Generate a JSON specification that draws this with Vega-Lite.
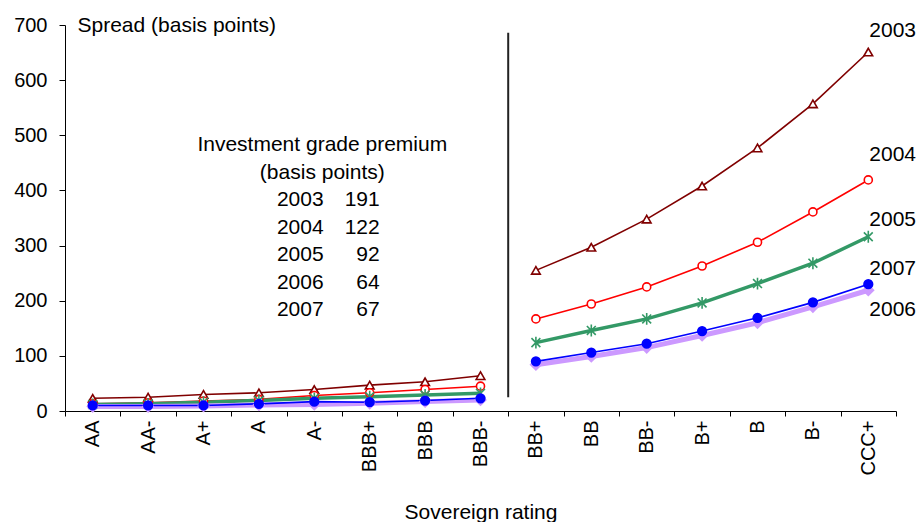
{
  "$schema": "https://vega.github.io/schema/vega-lite/v6.json",
  "width": 831,
  "height": 386,
  "autosize": "none",
  "padding": {"left": 65, "top": 25, "right": 23, "bottom": 111},
  "background": "white",
  "config": {
    "view": {"stroke": null},
    "font": "Liberation Sans",
    "axis": {
      "domainColor": "black", "tickColor": "black", "labelColor": "black", "titleColor": "black",
      "grid": false, "labelFontSize": 20, "titleFontSize": 21, "titleFontWeight": "normal",
      "labelFont": "Liberation Sans", "titleFont": "Liberation Sans"
    },
    "text": {"font": "Liberation Sans", "fontSize": 21, "color": "black"}
  },
  "datasets": {
    "spreads": [
      {"rating": "AA", "grade": "IG", "year": "2003", "spread": 23}, {"rating": "AA-", "grade": "IG", "year": "2003", "spread": 25}, {"rating": "A+", "grade": "IG", "year": "2003", "spread": 30}, {"rating": "A", "grade": "IG", "year": "2003", "spread": 33}, {"rating": "A-", "grade": "IG", "year": "2003", "spread": 39}, {"rating": "BBB+", "grade": "IG", "year": "2003", "spread": 47}, {"rating": "BBB", "grade": "IG", "year": "2003", "spread": 53}, {"rating": "BBB-", "grade": "IG", "year": "2003", "spread": 64},
      {"rating": "BB+", "grade": "SG", "year": "2003", "spread": 255}, {"rating": "BB", "grade": "SG", "year": "2003", "spread": 297}, {"rating": "BB-", "grade": "SG", "year": "2003", "spread": 348}, {"rating": "B+", "grade": "SG", "year": "2003", "spread": 408}, {"rating": "B", "grade": "SG", "year": "2003", "spread": 477}, {"rating": "B-", "grade": "SG", "year": "2003", "spread": 557}, {"rating": "CCC+", "grade": "SG", "year": "2003", "spread": 651},
      {"rating": "AA", "grade": "IG", "year": "2004", "spread": 13}, {"rating": "AA-", "grade": "IG", "year": "2004", "spread": 15}, {"rating": "A+", "grade": "IG", "year": "2004", "spread": 18}, {"rating": "A", "grade": "IG", "year": "2004", "spread": 21}, {"rating": "A-", "grade": "IG", "year": "2004", "spread": 28}, {"rating": "BBB+", "grade": "IG", "year": "2004", "spread": 33}, {"rating": "BBB", "grade": "IG", "year": "2004", "spread": 39}, {"rating": "BBB-", "grade": "IG", "year": "2004", "spread": 45},
      {"rating": "BB+", "grade": "SG", "year": "2004", "spread": 167}, {"rating": "BB", "grade": "SG", "year": "2004", "spread": 194}, {"rating": "BB-", "grade": "SG", "year": "2004", "spread": 225}, {"rating": "B+", "grade": "SG", "year": "2004", "spread": 263}, {"rating": "B", "grade": "SG", "year": "2004", "spread": 306}, {"rating": "B-", "grade": "SG", "year": "2004", "spread": 361}, {"rating": "CCC+", "grade": "SG", "year": "2004", "spread": 419},
      {"rating": "AA", "grade": "IG", "year": "2005", "spread": 12}, {"rating": "AA-", "grade": "IG", "year": "2005", "spread": 13}, {"rating": "A+", "grade": "IG", "year": "2005", "spread": 16}, {"rating": "A", "grade": "IG", "year": "2005", "spread": 19}, {"rating": "A-", "grade": "IG", "year": "2005", "spread": 23}, {"rating": "BBB+", "grade": "IG", "year": "2005", "spread": 26}, {"rating": "BBB", "grade": "IG", "year": "2005", "spread": 29}, {"rating": "BBB-", "grade": "IG", "year": "2005", "spread": 32},
      {"rating": "BB+", "grade": "SG", "year": "2005", "spread": 124}, {"rating": "BB", "grade": "SG", "year": "2005", "spread": 146}, {"rating": "BB-", "grade": "SG", "year": "2005", "spread": 167}, {"rating": "B+", "grade": "SG", "year": "2005", "spread": 196}, {"rating": "B", "grade": "SG", "year": "2005", "spread": 231}, {"rating": "B-", "grade": "SG", "year": "2005", "spread": 268}, {"rating": "CCC+", "grade": "SG", "year": "2005", "spread": 316},
      {"rating": "AA", "grade": "IG", "year": "2006", "spread": 8}, {"rating": "AA-", "grade": "IG", "year": "2006", "spread": 8}, {"rating": "A+", "grade": "IG", "year": "2006", "spread": 9}, {"rating": "A", "grade": "IG", "year": "2006", "spread": 11}, {"rating": "A-", "grade": "IG", "year": "2006", "spread": 12}, {"rating": "BBB+", "grade": "IG", "year": "2006", "spread": 14}, {"rating": "BBB", "grade": "IG", "year": "2006", "spread": 17}, {"rating": "BBB-", "grade": "IG", "year": "2006", "spread": 20},
      {"rating": "BB+", "grade": "SG", "year": "2006", "spread": 84}, {"rating": "BB", "grade": "SG", "year": "2006", "spread": 99}, {"rating": "BB-", "grade": "SG", "year": "2006", "spread": 115}, {"rating": "B+", "grade": "SG", "year": "2006", "spread": 137}, {"rating": "B", "grade": "SG", "year": "2006", "spread": 160}, {"rating": "B-", "grade": "SG", "year": "2006", "spread": 189}, {"rating": "CCC+", "grade": "SG", "year": "2006", "spread": 219},
      {"rating": "AA", "grade": "IG", "year": "2007", "spread": 10}, {"rating": "AA-", "grade": "IG", "year": "2007", "spread": 10}, {"rating": "A+", "grade": "IG", "year": "2007", "spread": 10}, {"rating": "A", "grade": "IG", "year": "2007", "spread": 13}, {"rating": "A-", "grade": "IG", "year": "2007", "spread": 17}, {"rating": "BBB+", "grade": "IG", "year": "2007", "spread": 16}, {"rating": "BBB", "grade": "IG", "year": "2007", "spread": 19}, {"rating": "BBB-", "grade": "IG", "year": "2007", "spread": 23},
      {"rating": "BB+", "grade": "SG", "year": "2007", "spread": 90}, {"rating": "BB", "grade": "SG", "year": "2007", "spread": 106}, {"rating": "BB-", "grade": "SG", "year": "2007", "spread": 122}, {"rating": "B+", "grade": "SG", "year": "2007", "spread": 145}, {"rating": "B", "grade": "SG", "year": "2007", "spread": 169}, {"rating": "B-", "grade": "SG", "year": "2007", "spread": 197}, {"rating": "CCC+", "grade": "SG", "year": "2007", "spread": 230}
    ],
    "labels": [
      {"year": "2003", "rating": "CCC+", "spread": 690},
      {"year": "2004", "rating": "CCC+", "spread": 464},
      {"year": "2005", "rating": "CCC+", "spread": 346},
      {"year": "2007", "rating": "CCC+", "spread": 258},
      {"year": "2006", "rating": "CCC+", "spread": 183}
    ],
    "premium": [
      {"year": "2003", "premium": 191},
      {"year": "2004", "premium": 122},
      {"year": "2005", "premium": 92},
      {"year": "2006", "premium": 64},
      {"year": "2007", "premium": 67}
    ]
  },
  "layer": [
    {
      "layer": [
        {
          "data": {"name": "spreads"},
          "mark": {"type": "line"},
          "encoding": {
            "x": {
              "field": "rating", "type": "nominal", "title": "Sovereign rating",
              "sort": ["AA", "AA-", "A+", "A", "A-", "BBB+", "BBB", "BBB-", "BB+", "BB", "BB-", "B+", "B", "B-", "CCC+"],
              "scale": {"type": "band", "paddingInner": 0, "paddingOuter": 0, "domain": ["AA", "AA-", "A+", "A", "A-", "BBB+", "BBB", "BBB-", "BB+", "BB", "BB-", "B+", "B", "B-", "CCC+"]},
              "axis": {"labelAngle": 270, "labelAlign": "right", "labelBaseline": "middle", "tickBand": "extent", "tickSize": 5, "labelPadding": 4, "titleY": 101, "titleBaseline": "middle", "labelFlush": false, "labelOverlap": false}
            },
            "y": {
              "field": "spread", "type": "quantitative", "title": "Spread (basis points)",
              "scale": {"domain": [0, 700], "nice": false},
              "axis": {"values": [0, 100, 200, 300, 400, 500, 600, 700], "tickSize": 6, "labelPadding": 12, "titleAngle": 0, "titleAlign": "left", "titleBaseline": "middle", "titleX": 12, "titleY": 0}
            },
            "color": {"field": "year", "type": "nominal", "legend": null, "scale": {"domain": ["2003", "2004", "2005", "2006", "2007"], "range": ["#800000", "#FF0000", "#339966", "#CC99FF", "#0000FF"]}},
            "strokeWidth": {"field": "year", "type": "ordinal", "legend": null, "scale": {"type": "ordinal", "domain": ["2003", "2004", "2005", "2006", "2007"], "range": [1.6, 1.6, 3.5, 5, 1.6]}},
            "detail": {"field": "grade", "type": "nominal"}
          }
        },
        {
          "data": {"name": "spreads"},
          "mark": {"type": "point", "strokeWidth": 1.6, "opacity": 1},
          "encoding": {
            "x": {"field": "rating", "type": "nominal", "title": "Sovereign rating", "sort": ["AA", "AA-", "A+", "A", "A-", "BBB+", "BBB", "BBB-", "BB+", "BB", "BB-", "B+", "B", "B-", "CCC+"]},
            "y": {"field": "spread", "type": "quantitative", "title": "Spread (basis points)"},
            "stroke": {"field": "year", "type": "nominal", "legend": null, "scale": {"domain": ["2003", "2004", "2005", "2006", "2007"], "range": ["#800000", "#FF0000", "#339966", "#CC99FF", "#0000FF"]}},
            "fill": {"field": "year", "type": "nominal", "legend": null, "scale": {"domain": ["2003", "2004", "2005", "2006", "2007"], "range": ["#FFFFFF", "#FFFFFF", "transparent", "#CC99FF", "#0000FF"]}},
            "shape": {"field": "year", "type": "nominal", "legend": null, "scale": {"domain": ["2003", "2004", "2005", "2006", "2007"], "range": ["triangle-up", "circle", "M0,-1V1M-0.75,-0.75L0.75,0.75M-0.75,0.75L0.75,-0.75", "diamond", "circle"]}},
            "size": {"field": "year", "type": "ordinal", "legend": null, "scale": {"type": "ordinal", "domain": ["2003", "2004", "2005", "2006", "2007"], "range": [75, 65, 140, 110, 75]}}
          }
        },
        {
          "data": {"values": [{}]},
          "mark": {"type": "rule", "color": "#222222", "strokeWidth": 2},
          "encoding": {
            "x": {"datum": "BB+", "type": "nominal", "bandPosition": 0},
            "y": {"datum": 25, "type": "quantitative"},
            "y2": {"datum": 686}
          }
        },
        {
          "data": {"name": "labels"},
          "mark": {"type": "text", "align": "left", "baseline": "middle", "dx": 1},
          "encoding": {
            "x": {"field": "rating", "type": "nominal"},
            "y": {"field": "spread", "type": "quantitative"},
            "text": {"field": "year"}
          }
        },
        {
          "data": {"values": [{}]},
          "mark": {"type": "text", "align": "center", "baseline": "middle", "lineHeight": 28, "dx": 8},
          "encoding": {
            "x": {"datum": "A-", "type": "nominal"},
            "y": {"datum": 483, "type": "quantitative"},
            "text": {"value": ["Investment grade premium", "(basis points)"]}
          }
        }
      ]
    },
    {
      "data": {"name": "premium"},
      "mark": {"type": "text", "align": "left", "baseline": "middle", "dx": 18},
      "encoding": {
        "x": {"datum": "A", "type": "nominal"},
        "y": {"field": "year", "type": "ordinal", "axis": null, "scale": {"type": "point", "padding": 0, "range": [175, 285]}},
        "text": {"field": "year"}
      }
    },
    {
      "data": {"name": "premium"},
      "mark": {"type": "text", "align": "right", "baseline": "middle", "dx": 10},
      "encoding": {
        "x": {"datum": "BBB+", "type": "nominal"},
        "y": {"field": "year", "type": "ordinal", "axis": null, "scale": {"type": "point", "padding": 0, "range": [175, 285]}},
        "text": {"field": "premium"}
      }
    }
  ],
  "resolve": {"scale": {"y": "independent"}}
}
